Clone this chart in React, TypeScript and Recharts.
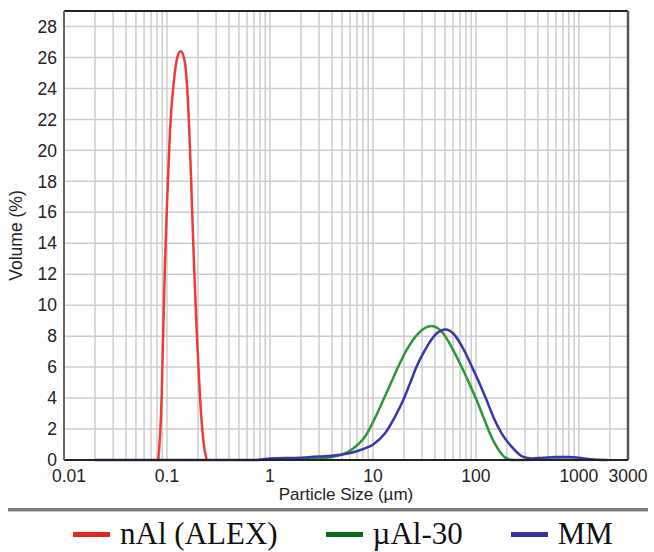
import { LineChart, Line, XAxis, YAxis, CartesianGrid, ReferenceLine } from 'recharts';

// particle size (µm) / volume (%)
const NAL_SIZE = [0.0823, 0.0888, 0.092, 0.0956, 0.1007, 0.107, 0.1169, 0.1259, 0.1358, 0.1462, 0.1554, 0.1647, 0.1738, 0.1828, 0.1942, 0.2091, 0.2251, 0.2428];
const NAL_VOL = [0, 4.1, 8.4, 12.7, 17, 21.3, 24.5, 26.0, 26.4, 26.0, 24.5, 21.3, 17, 12.7, 8.4, 4.1, 1.3, 0];

const UAL_SIZE = [0.75, 1, 2, 3, 4, 5, 6.44, 8.36, 10.45, 12.6, 14.9, 17.6, 21.2, 27.5, 37.2, 48.2, 60.2, 72.6, 86.1, 101.6, 117.8, 136.8, 158.9, 198.6, 230, 600, 1000];
const UAL_VOL = [0, 0.05, 0.08, 0.1, 0.2, 0.35, 0.75, 1.5, 2.7, 3.87, 4.95, 6.02, 7.1, 8.17, 8.65, 8.17, 7.1, 6.02, 4.95, 3.87, 2.8, 1.72, 0.86, 0.1, 0, 0.03, 0];

const MM_SIZE = [0.02, 0.1, 0.5, 0.75, 1, 2, 3, 4, 5, 6.44, 8, 10.07, 13.1, 16.4, 19.7, 22.9, 26.5, 32, 41.5, 51.1, 60.2, 75.3, 94.1, 109.3, 127, 147.3, 177.8, 222.3, 287.9, 350, 450, 600, 800, 1000, 1300, 1900];
const MM_VOL = [0, 0, 0, 0, 0.1, 0.15, 0.22, 0.28, 0.35, 0.5, 0.7, 1.0, 1.72, 2.8, 3.87, 4.95, 6.02, 7.1, 8.17, 8.43, 8.17, 7.2, 5.85, 4.9, 3.87, 2.8, 1.72, 0.86, 0.2, 0.1, 0.15, 0.2, 0.2, 0.15, 0.05, 0];

const MAJOR_LABELS = [0.01, 0.1, 1, 10, 100, 1000, 3000];
const DECADES = [0.01, 0.1, 1, 10, 100];
const Y_TICKS = [0, 2, 4, 6, 8, 10, 12, 14, 16, 18, 20, 22, 24, 26, 28];

const SERIES = [
  { name: 'nAl (ALEX)', sizes: NAL_SIZE, vols: NAL_VOL, color: '#ee3a3a', legend: '#e0281e' },
  { name: 'µAl-30', sizes: UAL_SIZE, vols: UAL_VOL, color: '#2c9636', legend: '#0b6a1c' },
  { name: 'MM', sizes: MM_SIZE, vols: MM_VOL, color: '#3838aa', legend: '#3232a2' },
];

const xTicks: number[] = [];
DECADES.forEach((d) => {
  for (let m = 1; m <= 9; m++) xTicks.push(+(d * m).toPrecision(3));
});
xTicks.push(1000, 2000, 3000);

// only the decade labels are written; first one sits a bit right of its gridline
function XTick({ x, y, payload }: { x: number; y: number; payload: { value: number } }) {
  if (!MAJOR_LABELS.includes(payload.value)) return null;
  const shift = payload.value === 0.01 ? 5 : 0;
  return (
    <text x={x + shift} y={y} dy="0.71em" textAnchor="middle" fill="#222" fontSize={17.5}>
      {String(payload.value)}
    </text>
  );
}

export default function App() {
  return (
    <div
      style={{
        position: 'absolute',
        left: 0,
        top: 0,
        width: 654,
        height: 552,
        background: '#fff',
        fontFamily: '"Liberation Sans", Arial, sans-serif',
      }}
    >
      <LineChart width={654} height={506} margin={{ top: 11, right: 26, bottom: 0, left: 0 }}>
        <CartesianGrid stroke="#cdcdcd" strokeWidth={1.5} />
        <XAxis
          dataKey="size"
          type="number"
          scale="log"
          domain={[0.01, 3000]}
          allowDataOverflow
          ticks={xTicks}
          interval={0}
          tickLine={false}
          tickSize={8}
          tickMargin={2}
          height={46}
          axisLine={{ stroke: '#222', strokeWidth: 2 }}
          tick={XTick}
          label={{ value: 'Particle Size (µm)', position: 'insideBottom', offset: 6, fill: '#222', fontSize: 17 }}
        />
        <YAxis
          type="number"
          domain={[0, 29]}
          ticks={Y_TICKS}
          interval={0}
          width={64}
          tickLine={false}
          tickSize={5}
          tickMargin={2}
          axisLine={{ stroke: '#666', strokeWidth: 2 }}
          tick={{ fill: '#222', fontSize: 17.5 }}
          label={{
            value: 'Volume (%)',
            angle: -90,
            position: 'insideLeft',
            offset: 16,
            fill: '#222',
            fontSize: 17.5,
            style: { textAnchor: 'middle' },
          }}
        />
        <ReferenceLine y={29} stroke="#222" strokeWidth={2} />
        <ReferenceLine x={3000} stroke="#555" strokeWidth={2.5} />
        {SERIES.map((s) => (
          <Line
            key={s.name}
            data={s.sizes.map((size, i) => ({ size, vol: s.vols[i] }))}
            dataKey="vol"
            name={s.name}
            type="monotone"
            stroke={s.color}
            strokeWidth={2.5}
            dot={false}
            isAnimationActive={false}
          />
        ))}
      </LineChart>

      {/* separator */}
      <div style={{ position: 'absolute', left: 8, top: 508, width: 640, height: 3, background: '#7a7a7a' }} />
      <div style={{ position: 'absolute', left: 8, top: 511, width: 640, height: 1, background: '#c4c4c4' }} />

      {/* legend */}
      <div
        style={{
          position: 'absolute',
          left: 0,
          top: 517,
          width: 654,
          boxSizing: 'border-box',
          paddingLeft: 32,
          display: 'flex',
          justifyContent: 'center',
          gap: 48,
          fontFamily: '"Liberation Serif", "Times New Roman", serif',
          fontSize: 31,
          lineHeight: '34px',
          color: '#111',
        }}
      >
        {SERIES.map((s) => (
          <div key={s.name} style={{ display: 'flex', alignItems: 'center', gap: 10 }}>
            <span style={{ display: 'inline-block', width: 37, height: 5, background: s.legend }} />
            <span>{s.name}</span>
          </div>
        ))}
      </div>
    </div>
  );
}
